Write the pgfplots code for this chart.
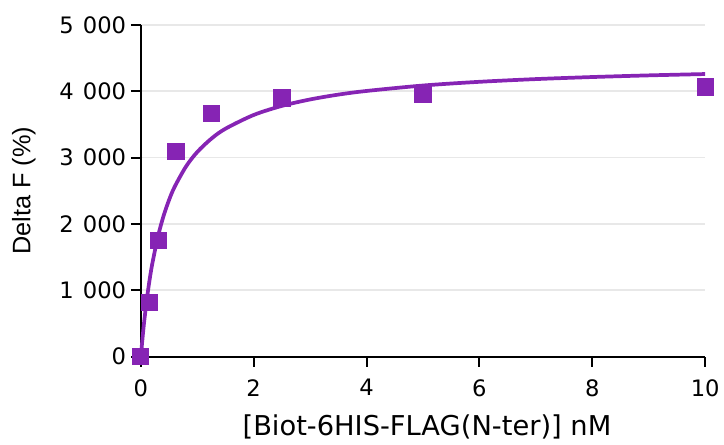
\documentclass[border=0pt]{standalone}
\usepackage{fontspec}
\setmainfont{Liberation Sans}
\newfontfamily\ticksfont{DejaVu Sans}
\usepackage{pgfplots}
\pgfplotsset{compat=1.18}
\definecolor{purp}{RGB}{134,36,180}
\definecolor{gridgray}{RGB}{232,232,232}

\pgfplotstableread{
x y
0 0
0.156 813
0.3125 1747
0.625 3087
1.25 3660
2.5 3900
5 3961
10 4066
}\points

\pgfplotstableread{
x y
0 0
0.05 452
0.1 821
0.15 1127
0.2 1386
0.3 1798
0.4 2113
0.5 2361
0.6 2561
0.8 2865
1.0 3085
1.25 3286
1.5 3436
2 3643
2.5 3780
3 3877
3.5 3950
4 4005
5 4087
6 4143
7 4184
8 4215
9 4240
10 4260
}\fit

\begin{document}
\begin{tikzpicture}
\begin{axis}[
  at={(0,0)}, anchor=origin,
  scale only axis,
  width=423.75pt, height=249pt,
  xmin=0, xmax=10, ymin=0, ymax=5000,
  axis x line*=bottom, axis y line*=left,
  axis line style={line width=1.5pt},
  xtick={0,2,4,6,8,10},
  ytick={0,1000,2000,3000,4000,5000},
  xtick align=outside, ytick align=outside,
  tick style={draw=black, line width=1.5pt},
  major tick length=7.5pt,
  ymajorgrids,
  grid style={line width=1.2pt, gridgray},
  clip=false,
  /pgf/number format/1000 sep={\hspace{0.4em}},
  /pgf/number format/assume math mode=true,
  yticklabel style={font=\ticksfont\fontsize{17}{20}\selectfont},
  xticklabel style={font=\ticksfont\fontsize{17}{20}\selectfont, yshift=-6pt},
  xlabel={[Biot-6HIS-FLAG(N-ter)] nM},
  ylabel={Delta F (\%)},
  xlabel style={font=\ticksfont\fontsize{20.5}{24}\selectfont, yshift=-7pt, xshift=3pt},
  ylabel style={font=\fontsize{19}{23}\selectfont, yshift=11pt},
]
\addplot[purp, line width=2.8pt, no marks, smooth] table[x=x,y=y]{\fit};
\addplot[only marks, mark=square*, mark size=6.1pt, mark options={fill=purp, draw=purp, line width=0pt}] table[x=x,y=y]{\points};
\end{axis}
\useasboundingbox (-105.75pt,-66pt) rectangle (437.25pt,267.75pt);
\end{tikzpicture}
\end{document}
